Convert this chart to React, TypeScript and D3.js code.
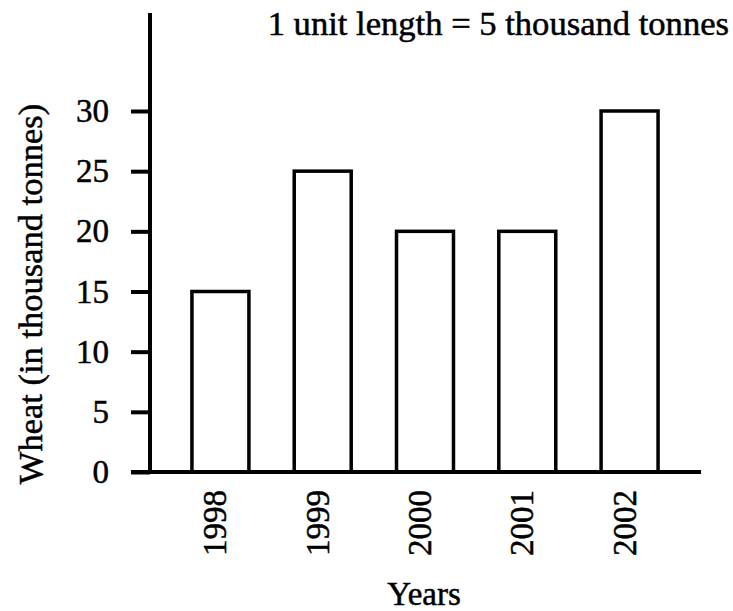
import React, { useEffect, useRef } from 'react'
import * as d3 from 'd3'

// chart data
const years = ['1998', '1999', '2000', '2001', '2002']
const wheat = [15, 25, 20, 20, 30]
const yTicks = [0, 5, 10, 15, 20, 25, 30]

const FONT = '"Liberation Serif", "Times New Roman", serif'

export default function App() {
  const ref = useRef<SVGSVGElement>(null)

  useEffect(() => {
    const svg = d3.select(ref.current)
    svg.selectAll('*').remove()

    const axisX = 150
    const axisY = 472
    const axisTop = 13
    const axisRight = 701

    const x = d3.scaleBand()
      .domain(years)
      .range([axisX, 700])
      .paddingInner(0.443)
      .paddingOuter(0.41)

    const y = d3.scaleLinear()
      .domain([0, 30])
      .range([axisY, 111])

    const data = years.map((yr, i) => ({ year: yr, value: wheat[i] }))

    // bars
    svg.append('g')
      .selectAll('rect')
      .data(data)
      .enter()
      .append('rect')
      .attr('x', d => x(d.year) as number)
      .attr('y', d => y(d.value))
      .attr('width', x.bandwidth())
      .attr('height', d => y(0) - y(d.value))
      .attr('fill', '#fff')
      .attr('stroke', '#000')
      .attr('stroke-width', 3.5)

    // y axis ticks + labels
    const gy = svg.append('g')
      .attr('transform', `translate(${axisX},0)`)
      .call(d3.axisLeft(y).tickValues(yTicks).tickSize(19).tickPadding(22).tickFormat(d3.format('d')))
    gy.select('.domain').remove()
    gy.selectAll('line').attr('stroke', '#000').attr('stroke-width', 4)
    gy.selectAll('text')
      .attr('fill', '#000')
      .attr('stroke', '#000')
      .attr('stroke-width', 0.5)
      .attr('font-family', FONT)
      .attr('font-size', 33)

    // x axis labels (rotated)
    const gx = svg.append('g')
      .attr('transform', `translate(0,${axisY})`)
      .call(d3.axisBottom(x).tickSize(0))
    gx.select('.domain').remove()
    gx.selectAll('text')
      .attr('transform', 'rotate(-90)')
      .attr('x', -18)
      .attr('y', 6)
      .attr('dy', null)
      .attr('text-anchor', 'end')
      .attr('fill', '#000')
      .attr('stroke', '#000')
      .attr('stroke-width', 0.5)
      .attr('font-family', FONT)
      .attr('font-size', 33)

    // axis lines
    svg.append('line')
      .attr('x1', axisX).attr('x2', axisX)
      .attr('y1', axisTop).attr('y2', axisY)
      .attr('stroke', '#000').attr('stroke-width', 4)
    svg.append('line')
      .attr('x1', 131).attr('x2', axisRight)
      .attr('y1', axisY).attr('y2', axisY)
      .attr('stroke', '#000').attr('stroke-width', 4)

    const label = (sel: any, size: number) => sel
      .attr('font-family', FONT)
      .attr('font-size', size)
      .attr('fill', '#000')
      .attr('stroke', '#000')
      .attr('stroke-width', 0.5)

    // scale note
    svg.append('text')
      .attr('x', 729)
      .attr('y', 35)
      .attr('text-anchor', 'end')
      .call(label, 34.6)
      .text('1 unit length = 5 thousand tonnes')

    // axis titles
    svg.append('text')
      .attr('transform', 'translate(42,294) rotate(-90)')
      .attr('text-anchor', 'middle')
      .call(label, 34.5)
      .text('Wheat (in thousand tonnes)')

    svg.append('text')
      .attr('x', 424)
      .attr('y', 605)
      .attr('text-anchor', 'middle')
      .call(label, 33)
      .text('Years')
  }, [])

  return (
    <svg
      ref={ref}
      width={733}
      height={611}
      style={{ position: 'absolute', left: 0, top: 0, background: '#fff' }}
    />
  )
}
